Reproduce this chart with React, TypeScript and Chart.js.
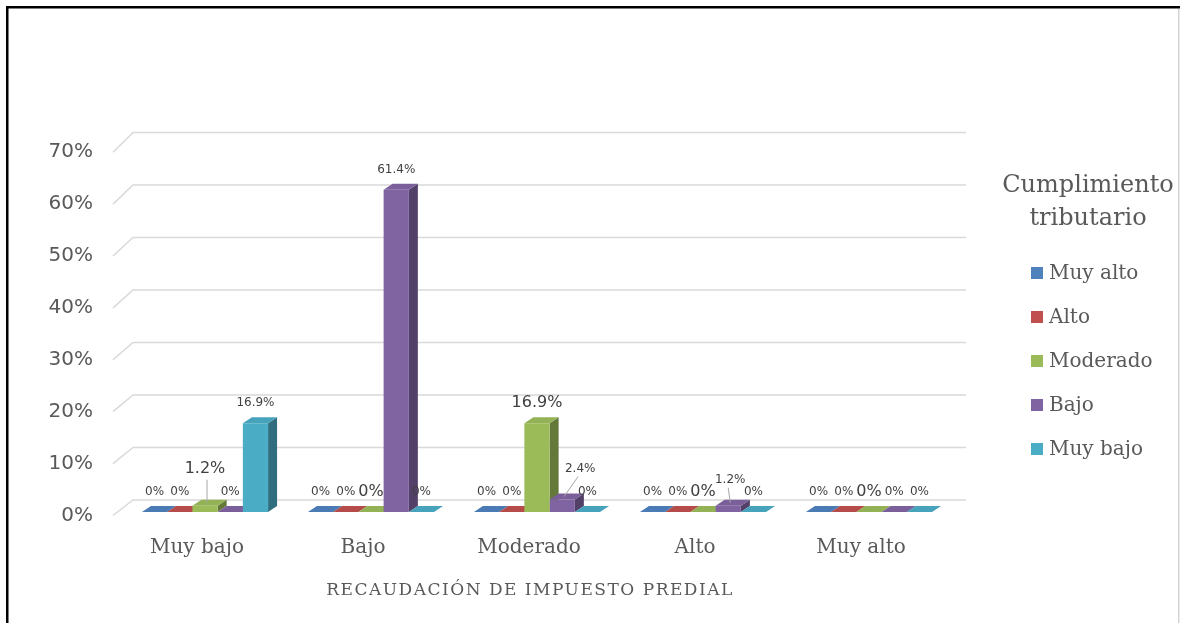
import React, { useEffect, useRef } from 'react';
import { Chart, registerables } from 'chart.js';

Chart.register(...registerables);

// ---- data ----
const categories = ['Muy bajo', 'Bajo', 'Moderado', 'Alto', 'Muy alto'];
const seriesNames = ['Muy alto', 'Alto', 'Moderado', 'Bajo', 'Muy bajo'];
const muyAltoValues = [0, 0, 0, 0, 0];
const altoValues = [0, 0, 0, 0, 0];
const moderadoValues = [1.2, 0, 16.9, 0, 0];
const bajoValues = [0, 61.4, 2.4, 1.2, 0];
const muyBajoValues = [16.9, 0, 0, 0, 0];
const yTicks = [0, 10, 20, 30, 40, 50, 60, 70];
const yTickLabels = ['0%', '10%', '20%', '30%', '40%', '50%', '60%', '70%'];
const xAxisTitle = 'RECAUDACIÓN DE IMPUESTO PREDIAL';
const legendTitle = ['Cumplimiento', 'tributario'];

// ---- style ----
const colors = ['#4F81BD', '#C0504D', '#9BBB59', '#8064A2', '#4BACC6'];
const DX = 9;
const DY = -6;
const SERIF = "'DejaVu Serif', serif";
const SANS = "'DejaVu Sans', sans-serif";
const TEXT = '#595959';
// label nudges for small values shown with leader lines: key "dataset-category"
const labelNudges: Record<string, [number, number]> = {
  '2-0': [0, -17],
  '3-2': [18, -11],
  '3-3': [2, -6],
};

function shade(hex: string, f: number) {
  const n = parseInt(hex.slice(1), 16);
  const r = Math.min(255, Math.round(((n >> 16) & 255) * f));
  const g = Math.min(255, Math.round(((n >> 8) & 255) * f));
  const b = Math.min(255, Math.round((n & 255) * f));
  return `rgb(${r},${g},${b})`;
}

const fmt = (v: number) => (v === 0 ? '0%' : v.toFixed(1) + '%');

const threeD = {
  id: 'threeD',
  beforeDatasetsDraw(chart: any) {
    const { ctx, chartArea, scales } = chart;
    const ys = scales.y;
    ctx.save();
    // gridlines: back wall + floor diagonal
    ctx.strokeStyle = '#D9D9D9';
    ctx.lineWidth = 1.5;
    yTicks.forEach((v) => {
      const py = ys.getPixelForValue(v);
      const fy = py + 3.5 + v * 0.06;
      ctx.beginPath();
      ctx.moveTo(chartArea.left - 9, fy);
      ctx.lineTo(chartArea.left + 11, py - 12);
      ctx.lineTo(chartArea.right + 14, py - 12);
      ctx.stroke();
    });
    // side and top faces, drawn left to right
    const base = ys.getPixelForValue(0);
    for (let c = 0; c < categories.length; c++) {
      for (let d = 0; d < chart.data.datasets.length; d++) {
        const bar = chart.getDatasetMeta(d).data[c];
        const x = bar.x, top = bar.y, w = bar.width;
        const L = x - w / 2, R = x + w / 2;
        const col = colors[d];
        if (base - top > 0.5) {
          ctx.fillStyle = shade(col, 0.64);
          ctx.beginPath();
          ctx.moveTo(R, top);
          ctx.lineTo(R + DX, top + DY);
          ctx.lineTo(R + DX, base + DY);
          ctx.lineTo(R, base);
          ctx.closePath();
          ctx.fill();
        }
        ctx.fillStyle = shade(col, 0.95);
        ctx.beginPath();
        ctx.moveTo(L, top);
        ctx.lineTo(R, top);
        ctx.lineTo(R + DX, top + DY);
        ctx.lineTo(L + DX, top + DY);
        ctx.closePath();
        ctx.fill();
      }
    }
    ctx.restore();
  },
  afterDatasetsDraw(chart: any) {
    const { ctx } = chart;
    ctx.save();
    ctx.textAlign = 'center';
    ctx.textBaseline = 'middle';
    for (let d = 0; d < chart.data.datasets.length; d++) {
      const values = chart.data.datasets[d].data;
      chart.getDatasetMeta(d).data.forEach((bar: any, c: number) => {
        const v = values[c];
        const nudge = labelNudges[`${d}-${c}`] || [0, 0];
        const lx = bar.x + nudge[0];
        const ly = bar.y - 20 + nudge[1];
        ctx.font = d === 2 ? `16px ${SANS}` : `12px ${SANS}`;
        ctx.fillStyle = '#404040';
        ctx.fillText(fmt(v), lx, ly);
        if (labelNudges[`${d}-${c}`]) {
          ctx.strokeStyle = '#A6A6A6';
          ctx.lineWidth = 1;
          ctx.beginPath();
          ctx.moveTo(lx + (d === 2 ? 2 : -2), ly + (d === 2 ? 11 : 8));
          ctx.lineTo(bar.x + 2, bar.y - 3);
          ctx.stroke();
        }
      });
    }
    ctx.restore();
  },
  afterDraw(chart: any) {
    const { ctx, chartArea, scales } = chart;
    const ys = scales.y;
    const xs = scales.x;
    ctx.save();
    // frame
    ctx.strokeStyle = '#000';
    ctx.lineWidth = 2.5;
    ctx.beginPath();
    ctx.moveTo(7.25, 623);
    ctx.lineTo(7.25, 7.25);
    ctx.lineTo(1180, 7.25);
    ctx.stroke();
    ctx.strokeStyle = '#D4D4D4';
    ctx.lineWidth = 1.5;
    ctx.beginPath();
    ctx.moveTo(1178.75, 9);
    ctx.lineTo(1178.75, 623);
    ctx.stroke();
    // y tick labels
    ctx.fillStyle = TEXT;
    ctx.font = `20px ${SANS}`;
    ctx.textAlign = 'right';
    ctx.textBaseline = 'middle';
    yTicks.forEach((v, i) => {
      const py = ys.getPixelForValue(v) + 4 + v * 0.05;
      ctx.fillText(yTickLabels[i], chartArea.left - 29, py);
    });
    // x labels
    ctx.textAlign = 'center';
    ctx.font = `20px ${SERIF}`;
    categories.forEach((cat, i) => {
      ctx.fillText(cat, xs.getPixelForValue(i) - 8, chartArea.bottom + 36);
    });
    // axis title
    ctx.font = `17px ${SERIF}`;
    (ctx as any).letterSpacing = '1.5px';
    ctx.fillText(xAxisTitle, (chartArea.left + chartArea.right) / 2 - 7, chartArea.bottom + 79);
    (ctx as any).letterSpacing = '0px';
    // legend
    ctx.font = `24px ${SERIF}`;
    legendTitle.forEach((t, i) => ctx.fillText(t, 1088, 186 + i * 33));
    ctx.textAlign = 'left';
    ctx.font = `20px ${SERIF}`;
    seriesNames.forEach((name, i) => {
      const cy = 273 + i * 44;
      ctx.fillStyle = colors[i];
      ctx.fillRect(1031, cy - 6, 12, 12);
      ctx.fillStyle = TEXT;
      ctx.fillText(name, 1049, cy + 1);
    });
    ctx.restore();
  },
};

export default function App() {
  const ref = useRef<HTMLCanvasElement | null>(null);
  useEffect(() => {
    if (!ref.current) return;
    const seriesValues = [muyAltoValues, altoValues, moderadoValues, bajoValues, muyBajoValues];
    const chart = new Chart(ref.current, {
      type: 'bar',
      data: {
        labels: categories,
        datasets: seriesNames.map((name, i) => ({
          label: name,
          data: seriesValues[i],
          backgroundColor: colors[i],
          borderWidth: 0,
          categoryPercentage: 0.76,
          barPercentage: 1,
        })),
      },
      options: {
        animation: false,
        responsive: false,
        devicePixelRatio: 1,
        layout: { padding: { left: 122, right: 228, top: 144.5, bottom: 111 } },
        plugins: { legend: { display: false }, tooltip: { enabled: false } },
        scales: {
          x: { display: false },
          y: { display: false, min: 0, max: 70, ticks: { stepSize: 10 } },
        },
      },
      plugins: [threeD],
    });
    return () => chart.destroy();
  }, []);
  return (
    <div style={{ position: 'absolute', left: 0, top: 0, width: 1180, height: 623, background: '#fff' }}>
      <canvas ref={ref} width={1180} height={623} style={{ width: 1180, height: 623, display: 'block' }} />
    </div>
  );
}
